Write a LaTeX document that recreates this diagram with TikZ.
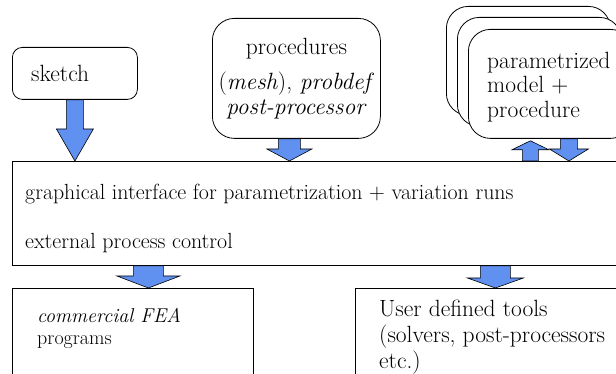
\documentclass[tikz,border=0pt]{standalone}
\usetikzlibrary{positioning, calc}
\definecolor{arrowblue}{RGB}{96,144,240}

% fat block arrow: #1 start, #2 tip, #3 half shaft, #4 half head, #5 head length
\newcommand{\blockarrow}[5]{%
  \coordinate (hb) at ($(#2)!#5!(#1)$);
  \draw[fatarrow] ($(#1)+(-#3,0)$) -- ($(hb)+(-#3,0)$) -- ($(hb)+(-#4,0)$) -- (#2)
    -- ($(hb)+(#4,0)$) -- ($(hb)+(#3,0)$) -- ($(#1)+(#3,0)$) -- cycle;
}

\begin{document}
\begin{tikzpicture}[
    x=1pt, y=1pt,
    box/.style={rectangle, draw=black, line width=0.8pt, fill=white, inner sep=0pt, anchor=north west},
    roundbox/.style={box, rounded corners=#1},
    txt/.style={inner sep=0pt, align=left},
    bigtext/.style={font=\fontsize{23.5}{24.5}\selectfont},
    fatarrow/.style={draw=black, line width=0.6pt, fill=arrowblue, line join=miter}
]
\useasboundingbox (0,0) rectangle (616,374);
\clip (0,0) rectangle (616,374);

% inputs
\node[roundbox=10pt, minimum width=125pt, minimum height=52pt] (sketch) at (12,327) {};
\node[txt, bigtext, below right=18pt and 19pt of sketch.north west] (sketchtext) {sketch};
\node[roundbox=22pt, minimum width=168pt, minimum height=120pt, text width=160pt, align=center,
      font=\fontsize{23.5}{25}\selectfont] (proc) at (212,356)
  {procedures\\[10pt](\textit{mesh}), \textit{probdef}\\\textit{post-processor}};

% stacked models
\node[roundbox=22pt, minimum width=164pt, minimum height=109pt] (back) at (446,368) {};
\node[roundbox=22pt, minimum width=164pt, minimum height=109pt] (middle) at (457,357) {};
\node[roundbox=22pt, minimum width=164pt, minimum height=109pt] (front) at (468,345) {};
\node[txt, bigtext, below right=22.5pt and 19pt of front.north west] (fronttext) {parametrized\\model +\\procedure};

% control
\node[box, minimum width=628pt, minimum height=104pt] (main) at (12,213) {};
\node[txt, font=\fontsize{21.9}{25}\selectfont, below right=23pt and 13pt of main.north west] (maintext)
  {graphical interface for parametrization + variation runs\\[24pt]external process control};

% programs
\node[box, minimum width=241pt, minimum height=110pt] (fea) at (12,86) {};
\node[txt, font=\fontsize{20}{22}\selectfont, below right=20pt and 25pt of fea.north west] (featext)
  {\textit{commercial FEA}\\programs};
\node[box, minimum width=285pt, minimum height=110pt] (tools) at (355,86) {};
\node[txt, font=\fontsize{23.5}{26}\selectfont, below right=12pt and 24pt of tools.north west] (toolstext)
  {User defined tools\\(solvers, post-processors\\etc.)};

% arrows
\coordinate (s1) at (sketch.south);
\coordinate (s2) at (s1 |- main.north);
\blockarrow{s1}{s2}{8.5}{18.5}{32pt}
\coordinate (p1) at ([xshift=-7pt]proc.south);
\coordinate (p2) at (p1 |- main.north);
\blockarrow{p1}{p2}{11}{22.5}{12pt}
\coordinate (u2) at ([xshift=-20pt, yshift=-2pt]front.south);
\coordinate (u1) at (u2 |- main.north);
\blockarrow{u1}{u2}{8}{18.5}{9pt}
\coordinate (d1) at ([xshift=18.5pt]front.south);
\coordinate (d2) at (d1 |- main.north);
\blockarrow{d1}{d2}{8.5}{19.5}{12pt}
\coordinate (f2) at ([xshift=15.5pt]fea.north);
\coordinate (f1) at (f2 |- main.south);
\blockarrow{f1}{f2}{15}{31.5}{12pt}
\coordinate (t2) at ([xshift=-2.5pt]tools.north);
\coordinate (t1) at (t2 |- main.south);
\blockarrow{t1}{t2}{15}{28}{10pt}

\end{tikzpicture}
\end{document}
